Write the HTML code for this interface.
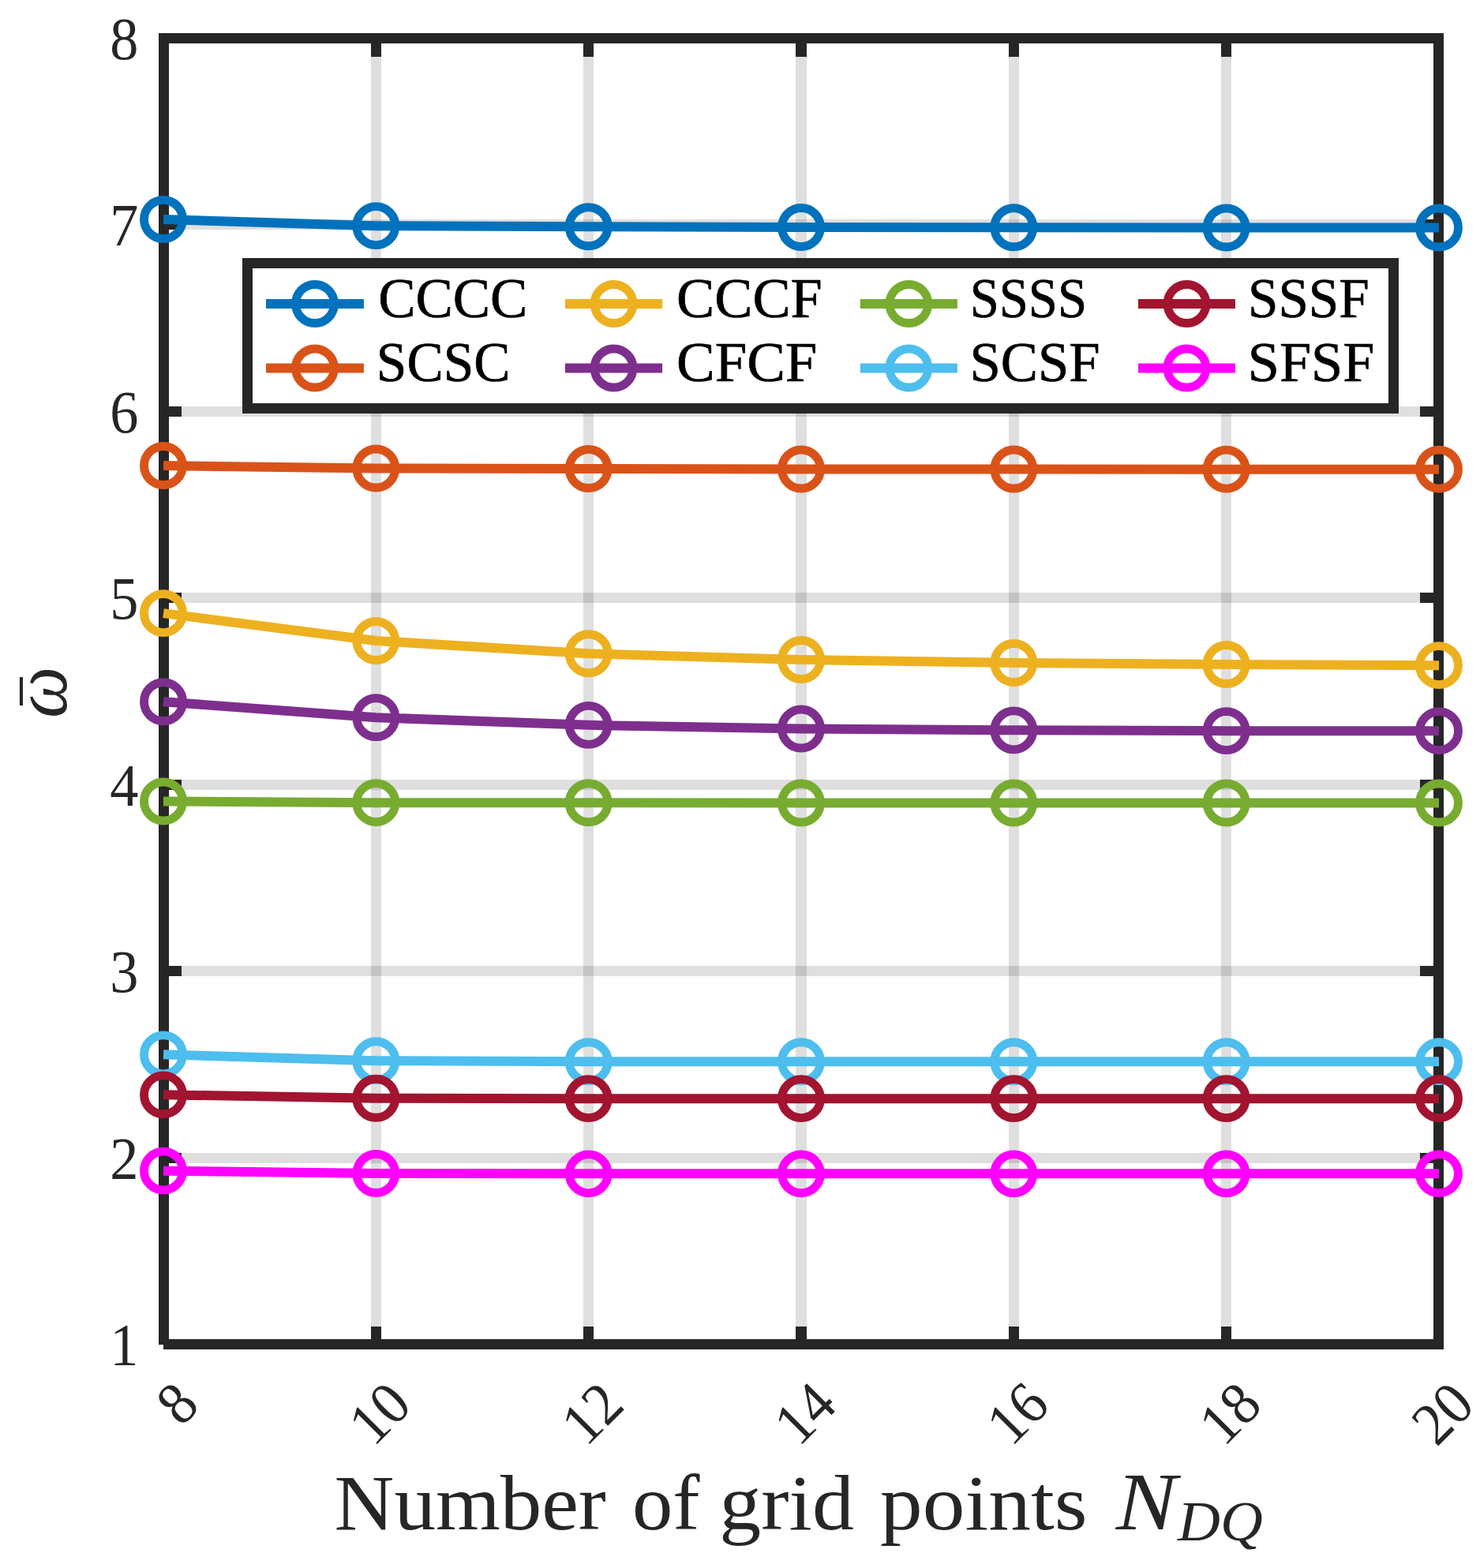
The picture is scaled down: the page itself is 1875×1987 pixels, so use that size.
<!DOCTYPE html>
<html lang="en">
<head>
<meta charset="utf-8">
<title>Convergence of frequency parameter with number of grid points</title>
<style>
html,body{margin:0;padding:0;background:#fff;}
body{width:1875px;height:1987px;}
svg{display:block;}
text{font-family:"Liberation Serif",serif;font-kerning:none;}
.tk{font-size:76.5px;fill:#262626;}
.lg{font-size:71.5px;fill:#000;stroke:#000;stroke-width:0.7px;stroke-linejoin:round;}
.xl{font-size:100.5px;fill:#262626;}
.xi{font-size:103px;fill:#262626;font-style:italic;}
.xs{font-size:70.9px;fill:#262626;font-style:italic;}
.yl{font-size:100px;fill:#262626;font-style:italic;}
.ym{font-size:100px;fill:#262626;}
</style>
</head>
<body>
<svg width="1875" height="1987" viewBox="0 0 1875 1987">
<rect x="0" y="0" width="1875" height="1987" fill="#ffffff"/>
<g stroke="#262626" stroke-opacity="0.15" fill="none">
<line x1="476.50" y1="48.50" x2="476.50" y2="1703.50" stroke-width="13"/>
<line x1="745.50" y1="48.50" x2="745.50" y2="1703.50" stroke-width="13"/>
<line x1="1015.00" y1="48.50" x2="1015.00" y2="1703.50" stroke-width="14"/>
<line x1="1284.50" y1="48.50" x2="1284.50" y2="1703.50" stroke-width="13"/>
<line x1="1553.50" y1="48.50" x2="1553.50" y2="1703.50" stroke-width="13"/>
<line x1="207.50" y1="1467.50" x2="1822.50" y2="1467.50" stroke-width="13"/>
<line x1="207.50" y1="1230.50" x2="1822.50" y2="1230.50" stroke-width="13"/>
<line x1="207.50" y1="994.50" x2="1822.50" y2="994.50" stroke-width="13"/>
<line x1="207.50" y1="757.50" x2="1822.50" y2="757.50" stroke-width="13"/>
<line x1="207.50" y1="521.50" x2="1822.50" y2="521.50" stroke-width="13"/>
<line x1="207.50" y1="284.50" x2="1822.50" y2="284.50" stroke-width="13"/>
</g>
<g stroke="#262626" stroke-width="13.00" fill="none">
<line x1="207.00" y1="1703.50" x2="1822.50" y2="1703.50"/>
<line x1="201.00" y1="48.50" x2="1829.00" y2="48.50"/>
<line x1="207.50" y1="48.50" x2="207.50" y2="1704.00"/>
<line x1="1822.50" y1="48.50" x2="1822.50" y2="1710.00"/>
<line x1="476.50" y1="1703.50" x2="476.50" y2="1681.00" stroke-width="13"/>
<line x1="476.50" y1="48.50" x2="476.50" y2="72.00" stroke-width="13"/>
<line x1="745.50" y1="1703.50" x2="745.50" y2="1681.00" stroke-width="13"/>
<line x1="745.50" y1="48.50" x2="745.50" y2="72.00" stroke-width="13"/>
<line x1="1015.00" y1="1703.50" x2="1015.00" y2="1681.00" stroke-width="14"/>
<line x1="1015.00" y1="48.50" x2="1015.00" y2="72.00" stroke-width="14"/>
<line x1="1284.50" y1="1703.50" x2="1284.50" y2="1681.00" stroke-width="13"/>
<line x1="1284.50" y1="48.50" x2="1284.50" y2="72.00" stroke-width="13"/>
<line x1="1553.50" y1="1703.50" x2="1553.50" y2="1681.00" stroke-width="13"/>
<line x1="1553.50" y1="48.50" x2="1553.50" y2="72.00" stroke-width="13"/>
<line x1="207.50" y1="1467.50" x2="230.00" y2="1467.50" stroke-width="13"/>
<line x1="1822.50" y1="1467.50" x2="1799.00" y2="1467.50" stroke-width="13"/>
<line x1="207.50" y1="1230.50" x2="230.00" y2="1230.50" stroke-width="13"/>
<line x1="1822.50" y1="1230.50" x2="1799.00" y2="1230.50" stroke-width="13"/>
<line x1="207.50" y1="994.50" x2="230.00" y2="994.50" stroke-width="13"/>
<line x1="1822.50" y1="994.50" x2="1799.00" y2="994.50" stroke-width="13"/>
<line x1="207.50" y1="757.50" x2="230.00" y2="757.50" stroke-width="13"/>
<line x1="1822.50" y1="757.50" x2="1799.00" y2="757.50" stroke-width="13"/>
<line x1="207.50" y1="521.50" x2="230.00" y2="521.50" stroke-width="13"/>
<line x1="1822.50" y1="521.50" x2="1799.00" y2="521.50" stroke-width="13"/>
<line x1="207.50" y1="284.50" x2="230.00" y2="284.50" stroke-width="13"/>
<line x1="1822.50" y1="284.50" x2="1799.00" y2="284.50" stroke-width="13"/>
</g>
<g class="tk" text-anchor="end">
<text transform="translate(175.50,1730.25) scale(0.945,1)">1</text>
<text transform="translate(175.50,1493.75) scale(0.945,1)">2</text>
<text transform="translate(175.50,1257.25) scale(0.945,1)">3</text>
<text transform="translate(175.50,1020.75) scale(0.945,1)">4</text>
<text transform="translate(175.50,784.25) scale(0.945,1)">5</text>
<text transform="translate(175.50,547.75) scale(0.945,1)">6</text>
<text transform="translate(175.50,311.25) scale(0.945,1)">7</text>
<text transform="translate(175.50,74.75) scale(0.945,1)">8</text>
</g>
<g class="tk" text-anchor="end">
<text transform="translate(255.00,1783.50) rotate(-45) scale(0.945,1)">8</text>
<text transform="translate(524.33,1783.50) rotate(-45) scale(0.945,1)">10</text>
<text transform="translate(793.67,1783.50) rotate(-45) scale(0.945,1)">12</text>
<text transform="translate(1063.00,1783.50) rotate(-45) scale(0.945,1)">14</text>
<text transform="translate(1332.33,1783.50) rotate(-45) scale(0.945,1)">16</text>
<text transform="translate(1601.67,1783.50) rotate(-45) scale(0.945,1)">18</text>
<text transform="translate(1871.00,1783.50) rotate(-45) scale(0.945,1)">20</text>
</g>
<text class="xl" transform="translate(423.57,1938.20) scale(1.0456,1)">Number</text>
<text class="xl" transform="translate(800.89,1938.20) scale(1.0214,1)">of</text>
<text class="xl" transform="translate(911.25,1938.20) scale(1.0541,1)">grid</text>
<text class="xl" transform="translate(1115.07,1938.20) scale(1.0688,1)">points</text>
<text class="xi" transform="translate(1413.65,1938.20) scale(1.1208,1)">N</text>
<text class="xs" transform="translate(1492.04,1952.00) scale(1.0522,1)">DQ</text>
<text class="yl" transform="translate(84.35,910.06) rotate(-90) scale(0.9222,0.9697)">ω</text>
<text class="ym" transform="translate(92.33,893.52) rotate(-90) scale(0.6962,0.8933)">¯</text>
<g stroke="#0072BD" stroke-width="12.00" fill="none">
<polyline points="207.00,277.95 476.33,286.15 745.67,287.25 1015.00,288.05 1284.33,288.25 1553.67,288.45 1823.00,288.55" stroke-linejoin="round"/>
<circle cx="207.00" cy="277.95" r="24.50" stroke-width="10.90"/>
<circle cx="476.33" cy="286.15" r="24.50" stroke-width="10.90"/>
<circle cx="745.67" cy="287.25" r="24.50" stroke-width="10.90"/>
<circle cx="1015.00" cy="288.05" r="24.50" stroke-width="10.90"/>
<circle cx="1284.33" cy="288.25" r="24.50" stroke-width="10.90"/>
<circle cx="1553.67" cy="288.45" r="24.50" stroke-width="10.90"/>
<circle cx="1823.00" cy="288.55" r="24.50" stroke-width="10.90"/>
</g>
<g stroke="#D95319" stroke-width="12.00" fill="none">
<polyline points="207.00,590.05 476.33,593.55 745.67,594.05 1015.00,594.45 1284.33,594.55 1553.67,594.65 1823.00,594.65" stroke-linejoin="round"/>
<circle cx="207.00" cy="590.05" r="24.50" stroke-width="10.90"/>
<circle cx="476.33" cy="593.55" r="24.50" stroke-width="10.90"/>
<circle cx="745.67" cy="594.05" r="24.50" stroke-width="10.90"/>
<circle cx="1015.00" cy="594.45" r="24.50" stroke-width="10.90"/>
<circle cx="1284.33" cy="594.55" r="24.50" stroke-width="10.90"/>
<circle cx="1553.67" cy="594.65" r="24.50" stroke-width="10.90"/>
<circle cx="1823.00" cy="594.65" r="24.50" stroke-width="10.90"/>
</g>
<g stroke="#EDB120" stroke-width="12.00" fill="none">
<polyline points="207.00,777.15 476.33,811.95 745.67,828.25 1015.00,835.95 1284.33,839.95 1553.67,841.95 1823.00,843.15" stroke-linejoin="round"/>
<circle cx="207.00" cy="777.15" r="24.50" stroke-width="10.90"/>
<circle cx="476.33" cy="811.95" r="24.50" stroke-width="10.90"/>
<circle cx="745.67" cy="828.25" r="24.50" stroke-width="10.90"/>
<circle cx="1015.00" cy="835.95" r="24.50" stroke-width="10.90"/>
<circle cx="1284.33" cy="839.95" r="24.50" stroke-width="10.90"/>
<circle cx="1553.67" cy="841.95" r="24.50" stroke-width="10.90"/>
<circle cx="1823.00" cy="843.15" r="24.50" stroke-width="10.90"/>
</g>
<g stroke="#7E2F8E" stroke-width="12.00" fill="none">
<polyline points="207.00,889.25 476.33,909.25 745.67,918.85 1015.00,923.45 1284.33,925.35 1553.67,926.15 1823.00,926.15" stroke-linejoin="round"/>
<circle cx="207.00" cy="889.25" r="24.50" stroke-width="10.90"/>
<circle cx="476.33" cy="909.25" r="24.50" stroke-width="10.90"/>
<circle cx="745.67" cy="918.85" r="24.50" stroke-width="10.90"/>
<circle cx="1015.00" cy="923.45" r="24.50" stroke-width="10.90"/>
<circle cx="1284.33" cy="925.35" r="24.50" stroke-width="10.90"/>
<circle cx="1553.67" cy="926.15" r="24.50" stroke-width="10.90"/>
<circle cx="1823.00" cy="926.15" r="24.50" stroke-width="10.90"/>
</g>
<g stroke="#77AC30" stroke-width="12.00" fill="none">
<polyline points="207.00,1015.45 476.33,1017.15 745.67,1017.25 1015.00,1017.55 1284.33,1017.55 1553.67,1017.55 1823.00,1017.55" stroke-linejoin="round"/>
<circle cx="207.00" cy="1015.45" r="24.50" stroke-width="10.90"/>
<circle cx="476.33" cy="1017.15" r="24.50" stroke-width="10.90"/>
<circle cx="745.67" cy="1017.25" r="24.50" stroke-width="10.90"/>
<circle cx="1015.00" cy="1017.55" r="24.50" stroke-width="10.90"/>
<circle cx="1284.33" cy="1017.55" r="24.50" stroke-width="10.90"/>
<circle cx="1553.67" cy="1017.55" r="24.50" stroke-width="10.90"/>
<circle cx="1823.00" cy="1017.55" r="24.50" stroke-width="10.90"/>
</g>
<g stroke="#4DBEEE" stroke-width="12.00" fill="none">
<polyline points="207.00,1336.35 476.33,1344.25 745.67,1345.25 1015.00,1345.25 1284.33,1345.25 1553.67,1345.25 1823.00,1345.25" stroke-linejoin="round"/>
<circle cx="207.00" cy="1336.35" r="24.50" stroke-width="10.90"/>
<circle cx="476.33" cy="1344.25" r="24.50" stroke-width="10.90"/>
<circle cx="745.67" cy="1345.25" r="24.50" stroke-width="10.90"/>
<circle cx="1015.00" cy="1345.25" r="24.50" stroke-width="10.90"/>
<circle cx="1284.33" cy="1345.25" r="24.50" stroke-width="10.90"/>
<circle cx="1553.67" cy="1345.25" r="24.50" stroke-width="10.90"/>
<circle cx="1823.00" cy="1345.25" r="24.50" stroke-width="10.90"/>
</g>
<g stroke="#A2142F" stroke-width="12.00" fill="none">
<polyline points="207.00,1387.35 476.33,1391.75 745.67,1392.15 1015.00,1392.15 1284.33,1392.15 1553.67,1392.15 1823.00,1392.15" stroke-linejoin="round"/>
<circle cx="207.00" cy="1387.35" r="24.50" stroke-width="10.90"/>
<circle cx="476.33" cy="1391.75" r="24.50" stroke-width="10.90"/>
<circle cx="745.67" cy="1392.15" r="24.50" stroke-width="10.90"/>
<circle cx="1015.00" cy="1392.15" r="24.50" stroke-width="10.90"/>
<circle cx="1284.33" cy="1392.15" r="24.50" stroke-width="10.90"/>
<circle cx="1553.67" cy="1392.15" r="24.50" stroke-width="10.90"/>
<circle cx="1823.00" cy="1392.15" r="24.50" stroke-width="10.90"/>
</g>
<g stroke="#FF00FF" stroke-width="12.00" fill="none">
<polyline points="207.00,1483.65 476.33,1486.95 745.67,1487.35 1015.00,1487.35 1284.33,1487.35 1553.67,1487.35 1823.00,1487.35" stroke-linejoin="round"/>
<circle cx="207.00" cy="1483.65" r="24.50" stroke-width="10.90"/>
<circle cx="476.33" cy="1486.95" r="24.50" stroke-width="10.90"/>
<circle cx="745.67" cy="1487.35" r="24.50" stroke-width="10.90"/>
<circle cx="1015.00" cy="1487.35" r="24.50" stroke-width="10.90"/>
<circle cx="1284.33" cy="1487.35" r="24.50" stroke-width="10.90"/>
<circle cx="1553.67" cy="1487.35" r="24.50" stroke-width="10.90"/>
<circle cx="1823.00" cy="1487.35" r="24.50" stroke-width="10.90"/>
</g>
<rect x="313.50" y="333.50" width="1452.00" height="184.00" fill="#ffffff" stroke="#262626" stroke-width="13.00"/>
<g stroke="#0072BD" stroke-width="12.00" fill="none"><line x1="337.00" y1="385.00" x2="460.90" y2="385.00"/><circle cx="398.95" cy="385.00" r="24.50" stroke-width="10.90"/></g>
<text class="lg" transform="translate(479.19,402.00) scale(0.9919,1)">CCCC</text>
<g stroke="#D95319" stroke-width="12.00" fill="none"><line x1="337.00" y1="466.50" x2="460.90" y2="466.50"/><circle cx="398.95" cy="466.50" r="24.50" stroke-width="10.90"/></g>
<text class="lg" transform="translate(476.86,482.60) scale(0.9694,1)">SCSC</text>
<g stroke="#EDB120" stroke-width="12.00" fill="none"><line x1="716.00" y1="385.00" x2="839.10" y2="385.00"/><circle cx="777.55" cy="385.00" r="24.50" stroke-width="10.90"/></g>
<text class="lg" transform="translate(857.04,402.00) scale(1.0106,1)">CCCF</text>
<g stroke="#7E2F8E" stroke-width="12.00" fill="none"><line x1="716.00" y1="466.50" x2="839.10" y2="466.50"/><circle cx="777.55" cy="466.50" r="24.50" stroke-width="10.90"/></g>
<text class="lg" transform="translate(857.01,482.60) scale(1.0201,1)">CFCF</text>
<g stroke="#77AC30" stroke-width="12.00" fill="none"><line x1="1089.80" y1="385.00" x2="1212.90" y2="385.00"/><circle cx="1151.35" cy="385.00" r="24.50" stroke-width="10.90"/></g>
<text class="lg" transform="translate(1228.74,402.00) scale(0.9323,1)">SSSS</text>
<g stroke="#4DBEEE" stroke-width="12.00" fill="none"><line x1="1089.80" y1="466.50" x2="1212.90" y2="466.50"/><circle cx="1151.35" cy="466.50" r="24.50" stroke-width="10.90"/></g>
<text class="lg" transform="translate(1228.47,482.60) scale(0.9892,1)">SCSF</text>
<g stroke="#A2142F" stroke-width="12.00" fill="none"><line x1="1442.00" y1="385.00" x2="1565.00" y2="385.00"/><circle cx="1503.50" cy="385.00" r="24.50" stroke-width="10.90"/></g>
<text class="lg" transform="translate(1580.98,402.00) scale(0.9664,1)">SSSF</text>
<g stroke="#FF00FF" stroke-width="12.00" fill="none"><line x1="1442.00" y1="466.50" x2="1565.00" y2="466.50"/><circle cx="1503.50" cy="466.50" r="24.50" stroke-width="10.90"/></g>
<text class="lg" transform="translate(1580.77,482.60) scale(1.0099,1)">SFSF</text>
</svg>
</body>
</html>
